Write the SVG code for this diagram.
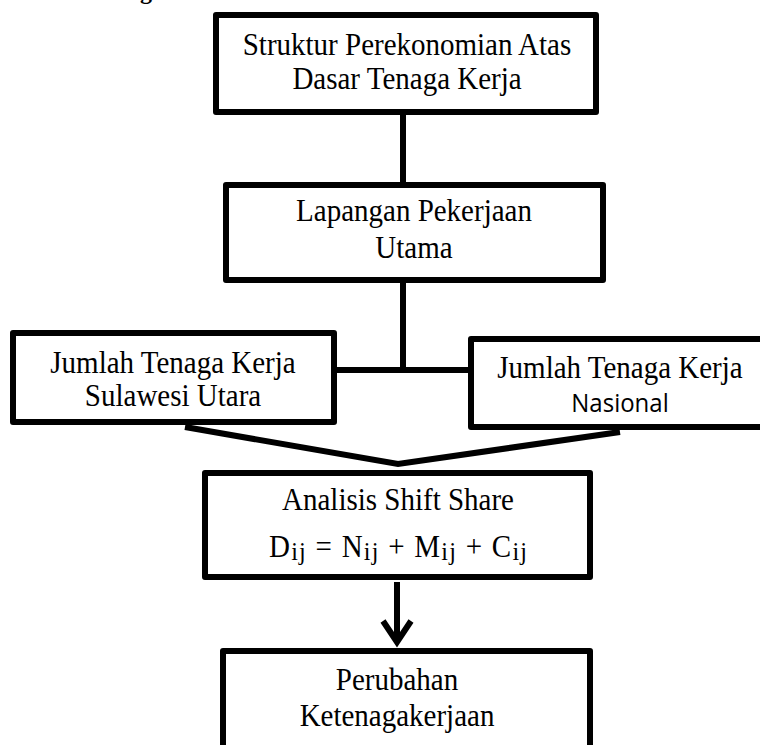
<svg xmlns="http://www.w3.org/2000/svg" width="760" height="745" viewBox="0 0 760 745">
<style>
.box{fill:#fff;stroke:#000;stroke-width:6;stroke-linejoin:round}
.ln{stroke:#000;stroke-width:6;fill:none}
.t{font-family:"Liberation Serif","Times New Roman",serif;font-size:29px;fill:#000;text-anchor:middle}
.s{font-family:"Open Sans","Noto Sans",sans-serif;font-size:24px;fill:#000;text-anchor:middle}
.sub{font-size:24px}
</style>
<rect width="760" height="745" fill="#fff"/>
<text x="140" y="-1" font-family="Liberation Serif,serif" font-weight="bold" font-size="24">gan</text>
<g id="connectors">
<line class="ln" x1="403" y1="114" x2="403" y2="184"/>
<line class="ln" x1="403" y1="282" x2="403" y2="372"/>
<line class="ln" x1="336" y1="370" x2="470" y2="370"/>
<polyline class="ln" points="185,427 398,464 620,432"/>
<line class="ln" x1="397" y1="582" x2="397" y2="638" stroke-width="8"/>
<polyline class="ln" points="383,621 397,642 411,621" stroke-width="8"/>
</g>
<g id="struktur">
<rect class="box" x="216" y="15" width="380" height="97"/>
<text class="t" transform="translate(407,55) scale(1,1.08)">Struktur Perekonomian Atas</text>
<text class="t" transform="translate(407,89) scale(1,1.08)">Dasar Tenaga Kerja</text>
</g>
<g id="lapangan">
<rect class="box" x="226" y="185" width="377" height="95"/>
<text class="t" transform="translate(414,221) scale(1,1.08)">Lapangan Pekerjaan</text>
<text class="t" transform="translate(414,258) scale(1,1.08)">Utama</text>
</g>
<g id="sulut">
<rect class="box" x="13" y="333" width="321" height="89"/>
<text class="t" transform="translate(173,373) scale(1,1.08)">Jumlah Tenaga Kerja</text>
<text class="t" transform="translate(173,406) scale(1,1.08)">Sulawesi Utara</text>
</g>
<g id="nasional">
<rect class="box" x="471" y="339" width="300" height="88"/>
<text class="t" transform="translate(620,378) scale(1,1.08)">Jumlah Tenaga Kerja</text>
<text class="s" transform="translate(620,412) scale(1,1.08)">Nasional</text>
</g>
<g id="analisis">
<rect class="box" x="205" y="473" width="385" height="104"/>
<text class="t" transform="translate(398,510) scale(1,1.08)">Analisis Shift Share</text>
<text class="t" transform="translate(398,557) scale(1,1.08)" font-size="30" textLength="258" lengthAdjust="spacing">D<tspan class="sub" dy="3">ij</tspan><tspan dy="-3"> = N</tspan><tspan class="sub" dy="3">ij</tspan><tspan dy="-3"> + M</tspan><tspan class="sub" dy="3">ij</tspan><tspan dy="-3"> + C</tspan><tspan class="sub" dy="3">ij</tspan></text>
</g>
<g id="perubahan">
<rect class="box" x="223" y="651" width="367" height="130"/>
<text class="t" transform="translate(397,690) scale(1,1.08)">Perubahan</text>
<text class="t" transform="translate(397,726) scale(1,1.08)">Ketenagakerjaan</text>
</g>
</svg>
